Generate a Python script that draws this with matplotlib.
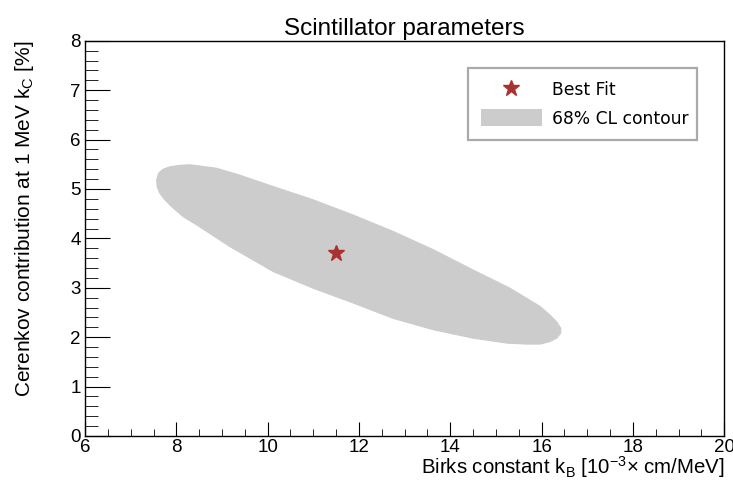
import numpy as np
import matplotlib
matplotlib.use('Agg')
import matplotlib.pyplot as plt
from matplotlib.lines import Line2D
from matplotlib.patches import Patch, Polygon
from matplotlib.ticker import MultipleLocator

plt.rcParams['font.family'] = ['Liberation Sans', 'DejaVu Sans']
plt.rcParams['mathtext.fontset'] = 'custom'
plt.rcParams['mathtext.rm'] = 'Liberation Sans'
plt.rcParams['mathtext.it'] = 'Liberation Sans:italic'

# best fit point (kB in 1e-3 cm/MeV, kC in %)
best_kb = 11.5
best_kc = 3.7

# 68% CL contour outline (clockwise from the left end)
contour_kb = [7.57, 7.61, 7.71, 7.86, 8.08, 8.30, 8.88, 9.39, 10.12, 11.00,
              11.88, 12.75, 13.63, 14.50, 15.31, 15.97, 16.18, 16.33, 16.42,
              16.42, 16.33, 16.18, 15.97, 15.67, 15.24, 14.50, 13.63, 12.75,
              11.88, 11.00, 10.12, 9.18, 8.45, 8.15, 7.90, 7.75, 7.64, 7.58]
contour_kc = [5.18, 5.32, 5.40, 5.45, 5.48, 5.49, 5.42, 5.28, 5.05, 4.78,
              4.47, 4.14, 3.77, 3.36, 2.99, 2.62, 2.45, 2.31, 2.18,
              2.08, 1.98, 1.91, 1.86, 1.86, 1.88, 1.98, 2.15, 2.38,
              2.69, 2.99, 3.33, 3.83, 4.27, 4.44, 4.64, 4.78, 4.91, 5.05]

fig = plt.figure(figsize=(7.33, 4.86), dpi=100)
ax = fig.add_axes([0.116, 0.103, 0.872, 0.813])

cont = Polygon(np.column_stack([contour_kb, contour_kc]), closed=True,
               facecolor='#cccccc', edgecolor='#cccccc', linewidth=0.8,
               joinstyle='round')
ax.add_patch(cont)
ax.plot(best_kb, best_kc, marker='*', color='#a83232', ms=12, ls='none')

ax.set_xlim(6, 20)
ax.set_ylim(0, 8)
ax.xaxis.set_major_locator(MultipleLocator(2))
ax.xaxis.set_minor_locator(MultipleLocator(0.5))
ax.yaxis.set_major_locator(MultipleLocator(1))
ax.yaxis.set_minor_locator(MultipleLocator(0.2))
ax.tick_params(axis='both', which='both', direction='in', labelsize=13.5,
               top=False, right=False)
ax.tick_params(axis='x', which='major', length=10, pad=2)
ax.tick_params(axis='x', which='minor', length=5)
ax.tick_params(axis='y', which='major', length=18, pad=3)
ax.tick_params(axis='y', which='minor', length=9)
for s in ax.spines.values():
    s.set_linewidth(1.0)

ax.set_title('Scintillator parameters', fontsize=17.5, pad=4)
ax.set_xlabel(r'Birks constant k$_\mathregular{B}$ [10$^\mathregular{-3}$× cm/MeV]',
              fontsize=14.7, loc='right')
ax.set_ylabel(r'Cerenkov contribution at 1 MeV k$_\mathregular{C}$ [%]',
              fontsize=15, loc='top')
ax.xaxis.set_label_coords(1.0, -0.047)
ax.yaxis.set_label_coords(-0.077, 1.0)

handles = [Line2D([], [], marker='*', color='#a83232', ms=12, ls='none'),
           Patch(facecolor='#cccccc', edgecolor='none')]
leg = ax.legend(handles, ['Best Fit', '68% CL contour'],
                loc='upper left', bbox_to_anchor=(0.599, 0.931, 0.358, 0.0),
                mode='expand', fancybox=False, framealpha=1,
                edgecolor='#aaaaaa', prop={'family': 'DejaVu Sans', 'size': 12.3},
                handlelength=3.6, handleheight=1.17, handletextpad=0.6,
                borderpad=0.75, labelspacing=0.58, borderaxespad=0)
leg.get_frame().set_linewidth(1.6)

fig.savefig('out.png', dpi=100)
